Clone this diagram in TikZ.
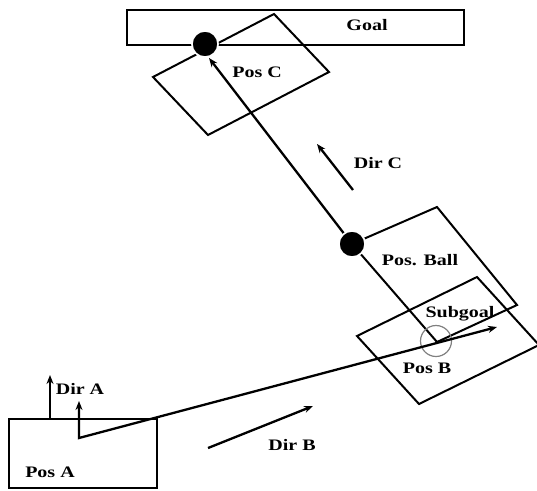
\documentclass[tikz,border=0pt]{standalone}
\usepackage{fontspec}
\setmainfont{Liberation Serif}
\usetikzlibrary{arrows.meta}
\begin{document}
\begin{tikzpicture}[x=1pt,y=-1pt,
  box/.style={line width=2pt,line join=miter},
  track/.style={line width=2.3pt},
  tip/.style={-{Stealth[length=9pt,width=7pt]}},
  lab/.style={font=\bfseries\fontsize{16}{16}\selectfont,xscale=1.25,transform shape,inner sep=0pt},
  ball/.style={circle,fill=black,draw=white,line width=1.5pt,minimum size=26pt,inner sep=0pt}]
\useasboundingbox (0,0) rectangle (537,490);

% field regions
\draw[box] (127,10) rectangle (464,45);
\draw[box] (153,77) coordinate (c1) -- (274,14) coordinate (c2) -- (329,72) coordinate (c3) -- (208,135) coordinate (c4) -- cycle;
\draw[box] (352,244) coordinate (pb1) -- (437,207) coordinate (pb2) -- (517,305) coordinate (pb3) -- (437,342) coordinate (pb4) -- cycle;
\draw[box] (357,336) coordinate (b1) -- (477,277) coordinate (b2) -- (539,345) coordinate (b3) -- (419,404) coordinate (b4) -- cycle;
\draw[box] (9,419) rectangle (157,488);

% subgoal marker
\node[circle,draw=gray,line width=1.2pt,minimum size=31pt,inner sep=0pt] (sub) at (436,341) {};

% balls
\node[ball] (goalball) at (205,44) {};
\node[ball] (posball) at (352,244) {};

% kick path from A through B
\coordinate (a0) at (79,438);
\coordinate (a1) at (79,401);
\coordinate (bend) at (497,327);
\draw[track,{Stealth[length=9pt,width=7pt]}-{Stealth[length=9pt,width=7pt]}] (a1) -- (a0) -- (bend);

% pass from ball to goal
\coordinate (gtip) at (209,58);
\draw[track,tip] (posball) -- (gtip);

% direction arrows
\coordinate (da0) at (50,419); \coordinate (da1) at (50,375);
\coordinate (db0) at (208,448); \coordinate (db1) at (313,406);
\coordinate (dc0) at (353,190); \coordinate (dc1) at (317,144);
\draw[track,tip] (da0) -- (da1);
\draw[track,tip] (db0) -- (db1);
\draw[track,tip] (dc0) -- (dc1);

% balls on top of the lines
\node[ball] at (goalball) {};
\node[ball] at (posball) {};

% labels
\node[lab] (tgoal) at (367,25) {Goal};
\node[lab] (tposc) at (257,72) {Pos C};
\node[lab] (tdirc) at (378,163) {Dir C};
\node[lab] (tball) at (420,260) {Pos. Ball};
\node[lab] (tsub) at (460,314) {Subgoal};
\node[lab] (tposb) at (427,368) {Pos B};
\node[lab] (tdira) at (80,389) {Dir A};
\node[lab] (tdirb) at (292,445) {Dir B};
\node[lab] (tposa) at (50,472) {Pos A};
\end{tikzpicture}
\end{document}
